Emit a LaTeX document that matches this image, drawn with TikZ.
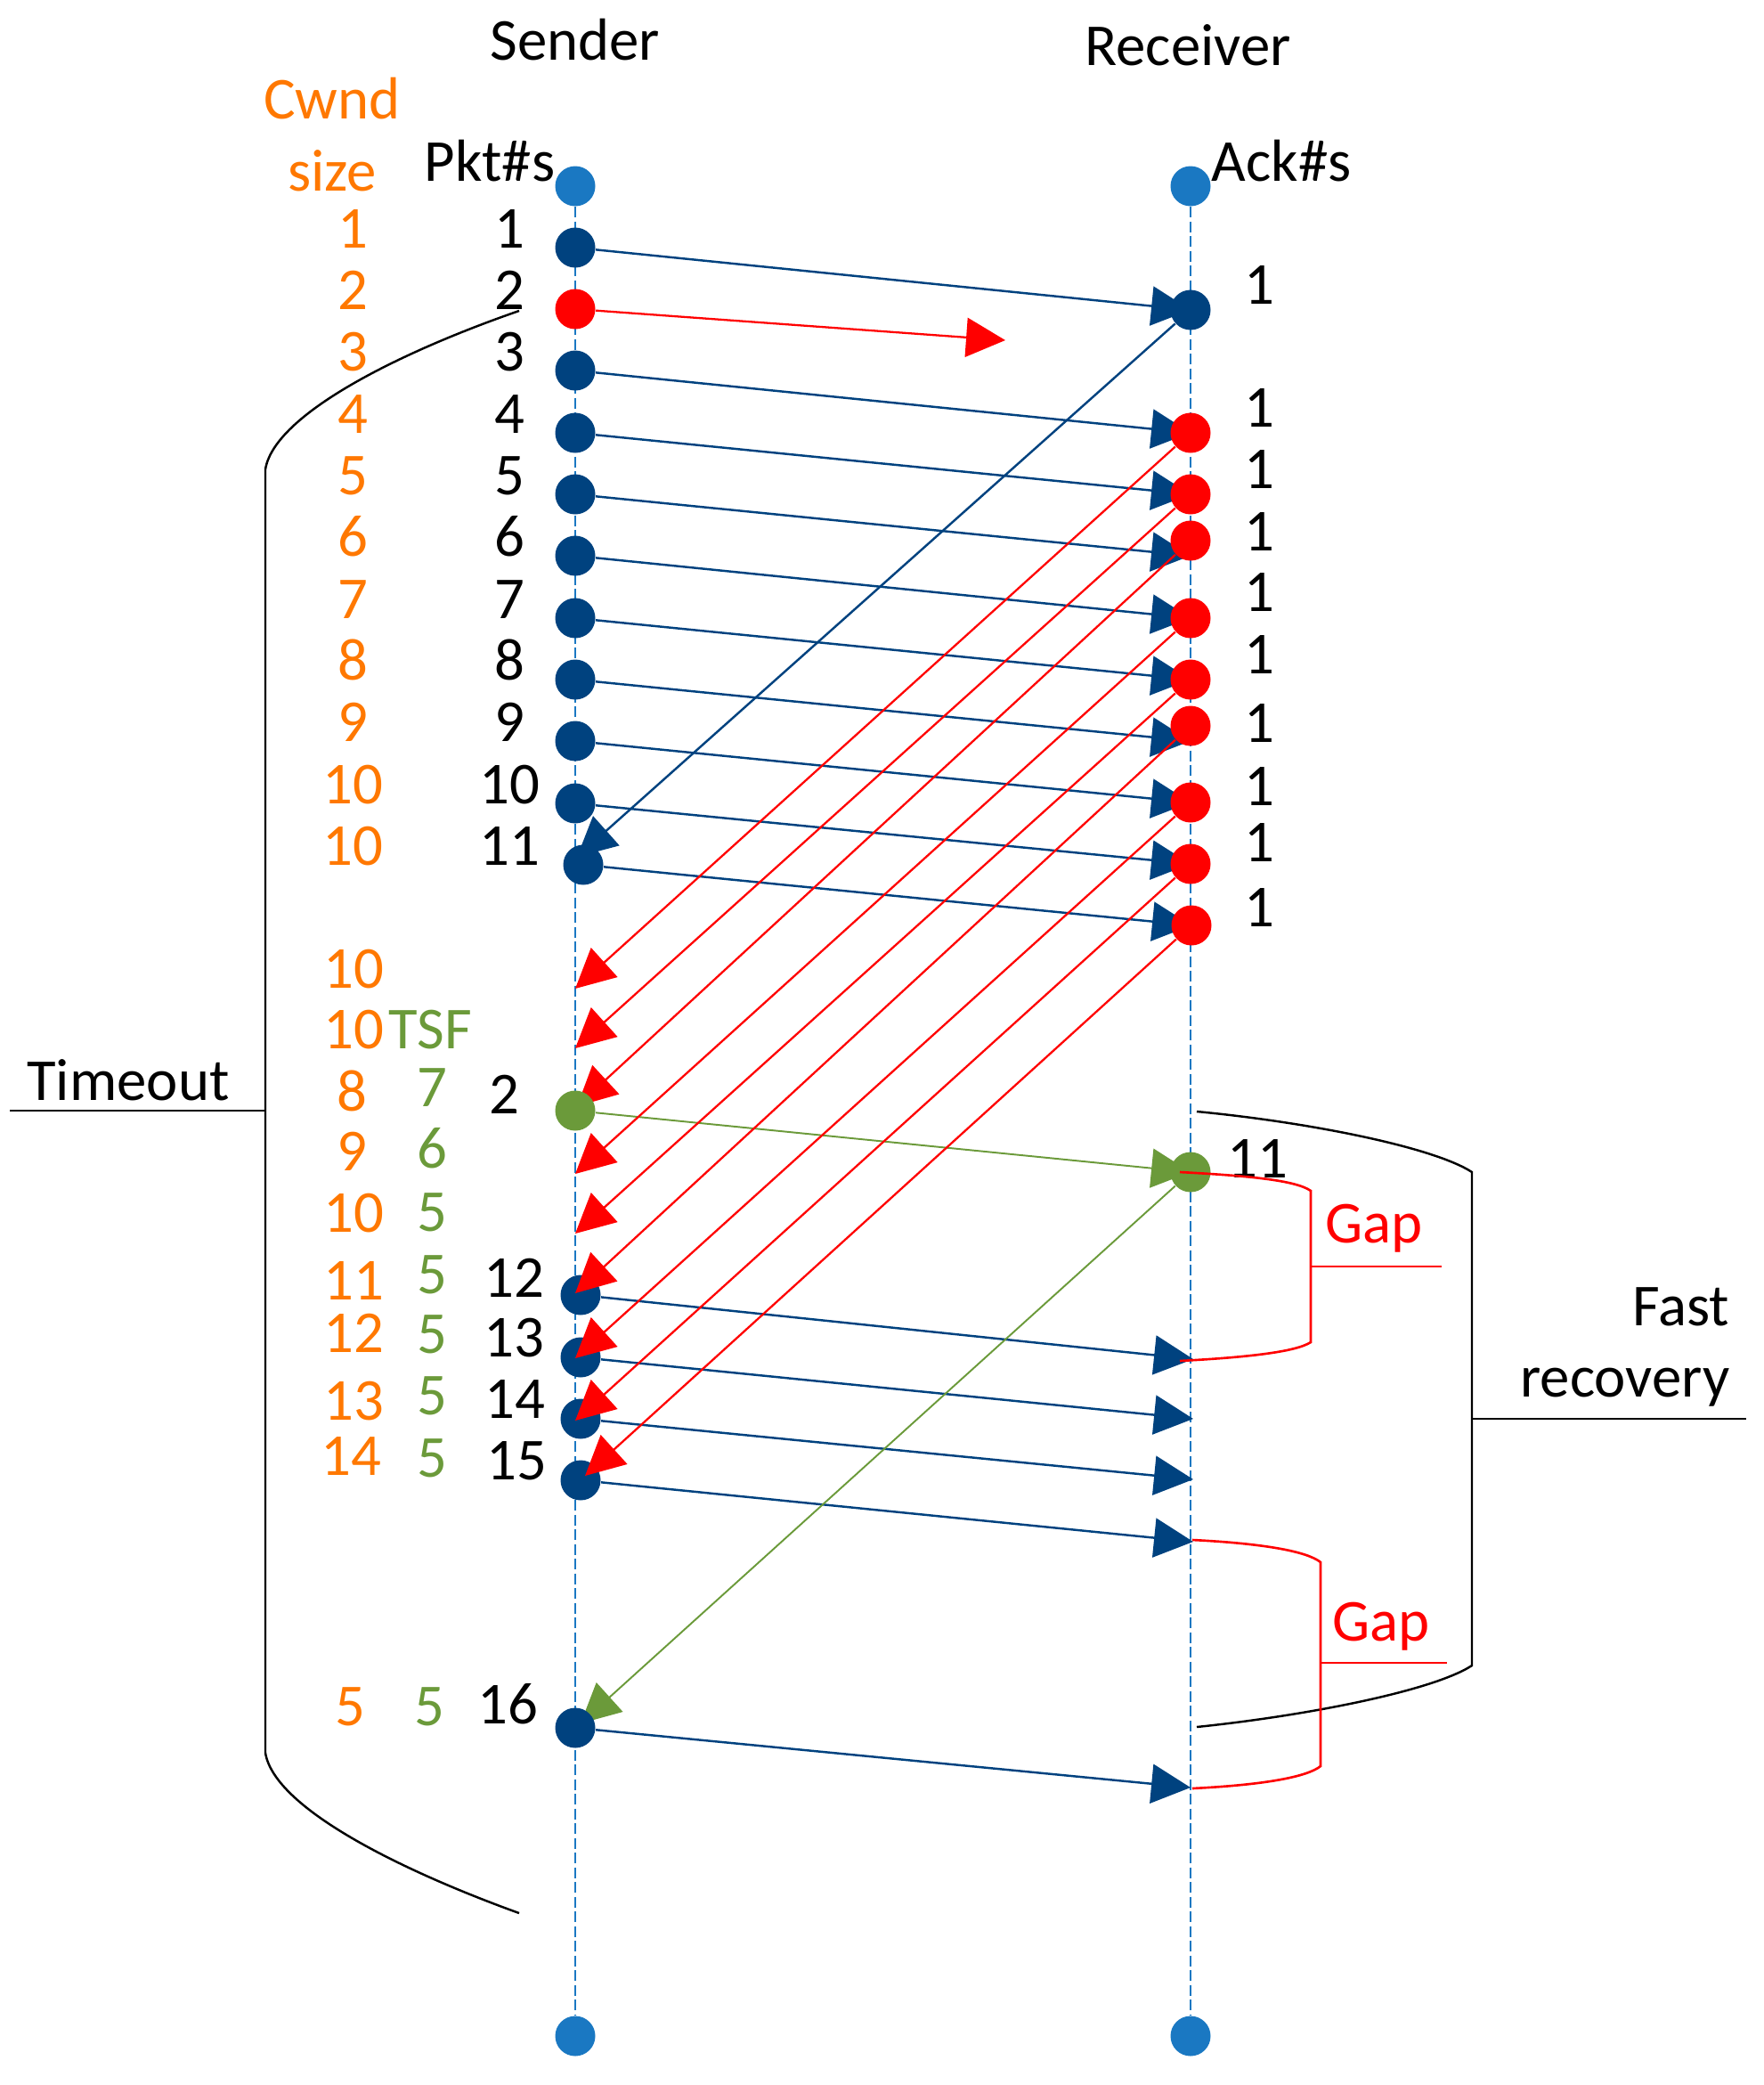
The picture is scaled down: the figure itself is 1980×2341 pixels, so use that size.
\documentclass[tikz,border=0pt]{standalone}
\usepackage{fontspec}
\setmainfont{Carlito}
\usetikzlibrary{arrows.meta}
\definecolor{dblue}{HTML}{00427F}
\definecolor{lblue}{HTML}{1A78C2}
\definecolor{mygreen}{HTML}{6B9A3A}
\definecolor{myorange}{HTML}{FF7800}
\pgfdeclarelayer{lifel}
\pgfdeclarelayer{arrl}
\pgfdeclarelayer{ackl}
\pgfdeclarelayer{topl}
\pgfsetlayers{lifel,arrl,main,ackl,topl}
\tikzset{
  dotbase/.style={circle,inner sep=0pt,minimum size=4.5mm,draw=none},
  dotb/.style={dotbase,fill=dblue},
  dotr/.style={dotbase,fill=red},
  dotg/.style={dotbase,fill=mygreen},
  dotl/.style={dotbase,fill=lblue},
  life/.style={lblue,line width=0.45pt,dash pattern=on 1.2mm off 0.45mm},
  tipb/.style={-{Triangle[length=4.4mm,width=4.4mm]}},
  barr/.style={tipb,dblue,line width=0.7pt},
  rarr/.style={tipb,red,line width=0.65pt},
  garr/.style={tipb,mygreen,line width=0.55pt},
  brk/.style={black,line width=0.7pt},
  gapl/.style={red,line width=0.75pt},
  lab/.style={anchor=base,inner sep=0pt},
  cw/.style={lab,text=myorange},
  tsf/.style={lab,text=mygreen},
  pk/.style={lab,text=black},
  gaptxt/.style={lab,text=red}
}
\begin{document}
\begin{tikzpicture}[x=0.1mm,y=-0.1mm,font=\fontsize{19}{23}\selectfont]
\useasboundingbox (0,0) rectangle (1980,2341);

% headers
\node[pk] (hsend) at (646,67) {Sender};
\node[pk] (hrecv) at (1334,73) {Receiver};
\node[cw] (hcwnd) at (373,133) {Cwnd};
\node[cw] (hsize) at (373,214) {size};
\node[pk] (hpkt) at (550,203) {Pkt\#s};
\node[pk] (hack) at (1439,203) {Ack\#s};

% end dots
\node[dotl] (st) at (646,209) {};
\node[dotl] (sb) at (646,2286) {};
\node[dotl] (rt) at (1337,209) {};
\node[dotl] (rb) at (1337,2286) {};
\begin{pgfonlayer}{lifel}
\draw[life] (st) -- (sb);
\draw[life] (rt) -- (rb);
\end{pgfonlayer}

% sender rows 1..11 labels
\foreach \k/\y/\c in {1/278/1,2/347/2,3/416/3,4/486/4,5/555/5,6/624/6,7/694/7,8/763/8,9/832/9,10/902/10,11/971/10}{
  \node[cw] (c\k) at (396,\y) {\c};
  \node[pk] (p\k) at (572,\y) {\k};
}
% lower labels
\node[cw] (c12) at (397,1109) {10};
\node[cw] (c13) at (397,1177) {10};
\node[cw] (c14) at (395,1247) {8};
\node[cw] (c15) at (395,1314) {9};
\node[cw] (c16) at (397,1383) {10};
\node[cw] (c17) at (397,1459) {11};
\node[cw] (c18) at (397,1518) {12};
\node[cw] (c19) at (397,1594) {13};
\node[cw] (c20) at (394,1656) {14};
\node[cw] (c21) at (393,1937) {5};
\node[tsf] (t1) at (483,1177) {TSF};
\node[tsf] (t2) at (485,1242) {7};
\node[tsf] (t3) at (485,1311) {6};
\node[tsf] (t4) at (485,1382) {5};
\node[tsf] (t5) at (485,1452) {5};
\node[tsf] (t6) at (485,1519) {5};
\node[tsf] (t7) at (485,1588) {5};
\node[tsf] (t8) at (485,1658) {5};
\node[tsf] (t9) at (482,1937) {5};
\node[pk] (p2b) at (566,1250) {2};
\node[pk] (p12) at (577,1456) {12};
\node[pk] (p13) at (577,1523) {13};
\node[pk] (p14) at (578,1592) {14};
\node[pk] (p15) at (580,1661) {15};
\node[pk] (p16) at (570,1935) {16};

% receiver labels
\foreach \i/\y in {1/341,2/479,3/548,4/618,5/686,6/756,7/833,8/904,9/967,10/1040}{
  \node[pk] (q\i) at (1414,\y) {1};
}
\node[pk] (q11) at (1412,1322) {11};

% sender dots
\node[dotb] (s1) at (646,278) {};
\node[dotr] (s2) at (646,347) {};
\node[dotb] (s3) at (646,416) {};
\node[dotb] (s4) at (646,486) {};
\node[dotb] (s5) at (646,555) {};
\node[dotb] (s6) at (646,624) {};
\node[dotb] (s7) at (646,694) {};
\node[dotb] (s8) at (646,763) {};
\node[dotb] (s9) at (646,832) {};
\node[dotb] (s10) at (646,902) {};
\node[dotb] (s11) at (655,971) {};
\node[dotb] (s12) at (652,1454) {};
\node[dotb] (s13) at (652,1524) {};
\node[dotb] (s14) at (652,1593) {};
\node[dotb] (s15) at (652,1662) {};
\node[dotb] (s16) at (646,1940) {};
\begin{pgfonlayer}{topl}
\node[dotg] (g) at (646,1247) {};
\end{pgfonlayer}

% receiver dots
\node[dotb] (r1) at (1337,348) {};
\node[dotr] (rr1) at (1337,486) {};
\node[dotr] (rr2) at (1337,555) {};
\node[dotr] (rr3) at (1337,607) {};
\node[dotr] (rr4) at (1337,694) {};
\node[dotr] (rr5) at (1337,763) {};
\node[dotr] (rr6) at (1337,815) {};
\node[dotr] (rr7) at (1337,901) {};
\node[dotr] (rr8) at (1337,970) {};
\node[dotr] (rr9) at (1338,1039) {};
\node[dotg] (rg) at (1337,1316) {};

% arrow end coordinates
\coordinate (lost) at (1129,382);
\coordinate (a5) at (1337,624);
\coordinate (a8) at (1337,832);
\coordinate (a12) at (1340,1526);
\coordinate (a13) at (1340,1593);
\coordinate (a14) at (1340,1661);
\coordinate (a15) at (1340,1731);
\coordinate (a16) at (1337,2007);
\coordinate (k11) at (648,962);
\coordinate (k16) at (652,1935);
\coordinate (e1) at (646,1110);
\coordinate (e2) at (646,1177);
\coordinate (e3) at (648,1242);
\coordinate (e4) at (646,1318);
\coordinate (e5) at (646,1385);
\coordinate (e6) at (646,1452);
\coordinate (e7) at (646,1525);
\coordinate (e8) at (646,1595);
\coordinate (e9) at (657,1657);

\begin{pgfonlayer}{arrl}
\draw[barr] (s1) -- (r1.center);
\draw[rarr] (s2) -- (lost);
\draw[barr] (s3) -- (rr1.center);
\draw[barr] (s4) -- (rr2.center);
\draw[barr] (s5) -- (a5);
\draw[barr] (s6) -- (rr4.center);
\draw[barr] (s7) -- (rr5.center);
\draw[barr] (s8) -- (a8);
\draw[barr] (s9) -- (rr7.center);
\draw[barr] (s10) -- (rr8.center);
\draw[barr] (s11) -- (rr9.center);
\draw[barr] (s12) -- (a12);
\draw[barr] (s13) -- (a13);
\draw[barr] (s14) -- (a14);
\draw[barr] (s15) -- (a15);
\draw[barr] (s16) -- (a16);
\draw[garr] (g) -- (rg.center);
\draw[barr] (r1) -- (k11);
\draw[garr] (rg) -- (k16);
\end{pgfonlayer}

\begin{pgfonlayer}{ackl}
\draw[rarr] (rr1) -- (e1);
\draw[rarr] (rr2) -- (e2);
\draw[rarr] (rr3) -- (e3);
\draw[rarr] (rr4) -- (e4);
\draw[rarr] (rr5) -- (e5);
\draw[rarr] (rr6) -- (e6);
\draw[rarr] (rr7) -- (e7);
\draw[rarr] (rr8) -- (e8);
\draw[rarr] (rr9) -- (e9);
\end{pgfonlayer}

% Timeout bracket
\draw[brk] (583,349) .. controls (450,395) and (308,465) .. (298,527)
  -- (298,1968) .. controls (308,2030) and (450,2100) .. (583,2148);
\coordinate (tol) at (11,1247);
\coordinate (tor) at (298,1247);
\draw[brk] (tol) -- (tor);
\node[pk] (timeout) at (144,1235) {Timeout};

% Fast recovery bracket
\draw[brk] (1344,1248) .. controls (1470,1260) and (1610,1288) .. (1653,1316)
  -- (1653,1870) .. controls (1610,1898) and (1470,1926) .. (1344,1939);
\coordinate (frl) at (1653,1593);
\coordinate (frr) at (1961,1593);
\draw[brk] (frl) -- (frr);
\node[lab,anchor=base east] (fast) at (1943,1488) {Fast};
\node[lab,anchor=base east] (recov) at (1943,1568) {recovery};

% Gap brackets
\draw[gapl] (1325,1316) .. controls (1400,1320) and (1455,1325) .. (1472,1337)
  -- (1472,1507) .. controls (1455,1518) and (1400,1524) .. (1325,1528);
\coordinate (g1l) at (1472,1422);
\coordinate (g1r) at (1619,1422);
\draw[gapl] (g1l) -- (g1r);
\node[gaptxt] (gap1) at (1543,1395) {Gap};
\draw[gapl] (1339,1729) .. controls (1420,1733) and (1468,1742) .. (1483,1754)
  -- (1483,1983) .. controls (1468,1995) and (1420,2004) .. (1339,2008);
\coordinate (g2l) at (1483,1867);
\coordinate (g2r) at (1625,1867);
\draw[gapl] (g2l) -- (g2r);
\node[gaptxt] (gap2) at (1551,1842) {Gap};
\end{tikzpicture}
\end{document}
